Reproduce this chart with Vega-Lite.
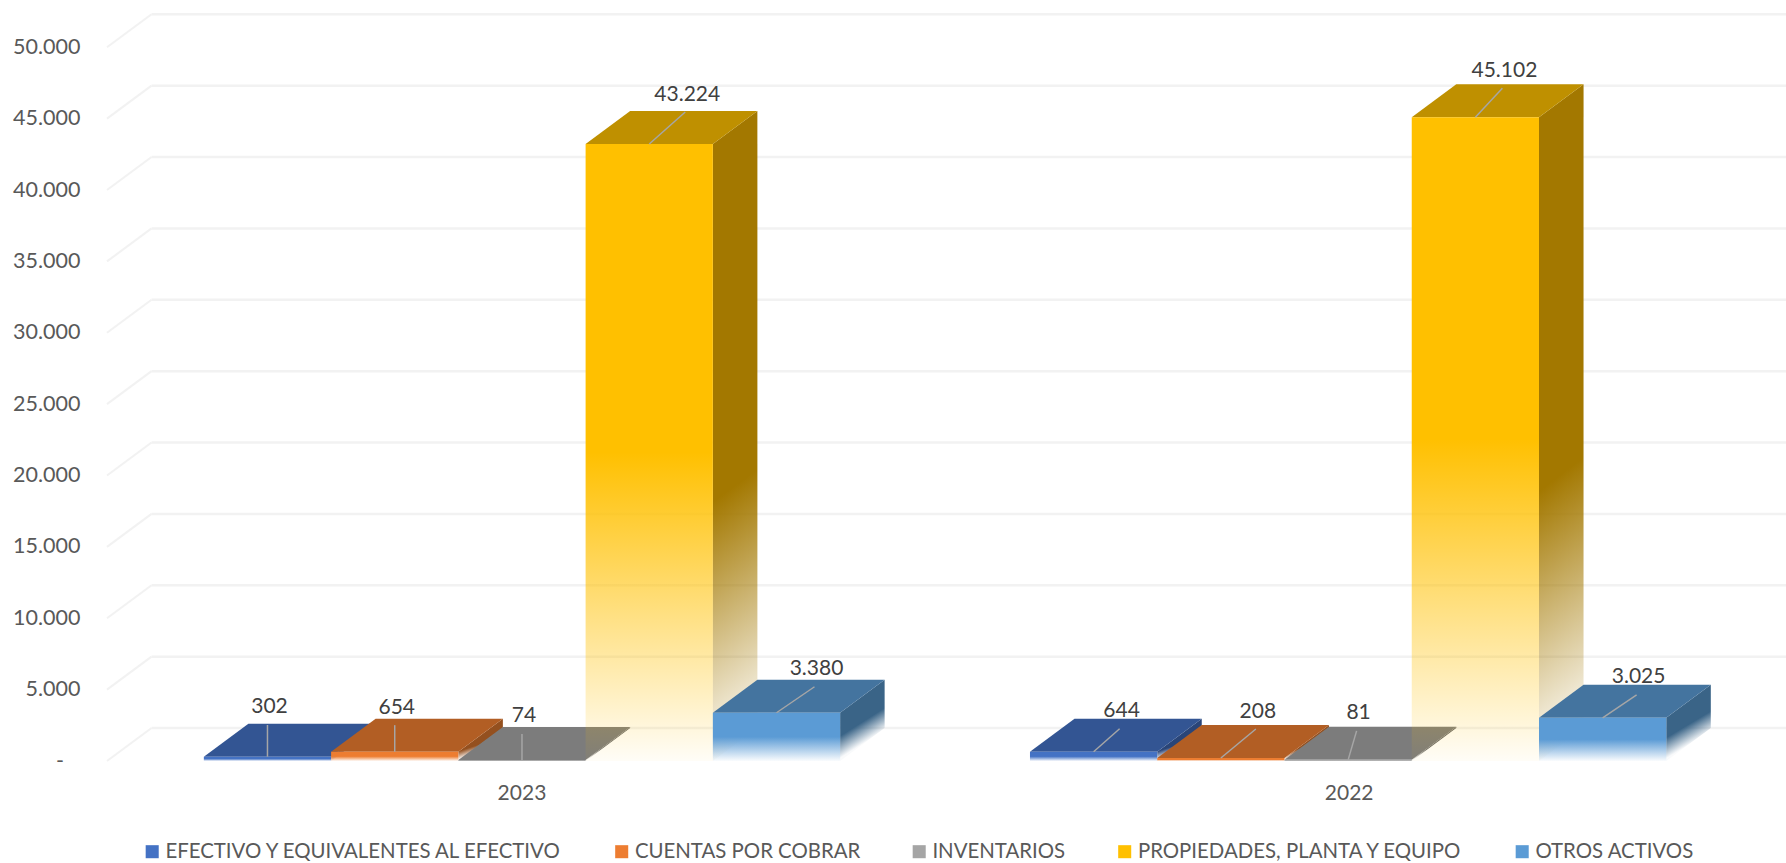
{
"$schema":"https://vega.github.io/schema/vega-lite/v6.json",
"autosize":{"type":"none"},
"padding":{"left":107,"top":47.3,"right":0,"bottom":102},
"width":1679,"height":713.7,
"background":"white",
"config":{"view":{"stroke":null},"font":"Lato"},
"params":[
{"name":"series","value":["EFECTIVO Y EQUIVALENTES AL EFECTIVO","CUENTAS POR COBRAR","INVENTARIOS","PROPIEDADES, PLANTA Y EQUIPO","OTROS ACTIVOS"]},
{"name":"gTop","value":["#335593","#b25e24","#7c7c7c","#bf9000","#44749f"]},
{"name":"gSide","value":[
   {"gradient":"linear","x1":0,"y1":0,"x2":0.3,"y2":0.86,"stops":[{"offset":0,"color":"#2a4578"},{"offset":0.8,"color":"#2a4578"},{"offset":1,"color":"rgba(42,69,120,0.05)"}]},
   {"gradient":"linear","x1":0,"y1":0,"x2":0.3,"y2":0.86,"stops":[{"offset":0,"color":"#94501f"},{"offset":0.8,"color":"#94501f"},{"offset":1,"color":"rgba(148,80,31,0.05)"}]},
   {"gradient":"linear","x1":0,"y1":0,"x2":0.3,"y2":0.86,"stops":[{"offset":0,"color":"#666666"},{"offset":0.8,"color":"#666666"},{"offset":1,"color":"rgba(102,102,102,0.05)"}]},
   {"gradient":"linear","x1":0,"y1":0,"x2":0.05,"y2":1,"stops":[{"offset":0,"color":"#a37800"},{"offset":0.6,"color":"#a37800"},{"offset":1,"color":"rgba(163,120,0,0.02)"}]},
   {"gradient":"linear","x1":0,"y1":0,"x2":0.3,"y2":0.86,"stops":[{"offset":0,"color":"#3a6487"},{"offset":0.72,"color":"#3a6487"},{"offset":1,"color":"rgba(58,100,135,0.03)"}]}
]},
{"name":"gFront","value":[
   {"gradient":"linear","x1":0,"y1":0,"x2":0,"y2":1,"stops":[{"offset":0,"color":"#4472c4"},{"offset":0.5,"color":"#4472c4"},{"offset":1,"color":"rgba(68,114,196,0.03)"}]},
   {"gradient":"linear","x1":0,"y1":0,"x2":0,"y2":1,"stops":[{"offset":0,"color":"#ed7d31"},{"offset":0.5,"color":"#ed7d31"},{"offset":1,"color":"rgba(237,125,49,0.03)"}]},
   {"gradient":"linear","x1":0,"y1":0,"x2":0,"y2":1,"stops":[{"offset":0,"color":"#a5a5a5"},{"offset":0.5,"color":"#a5a5a5"},{"offset":1,"color":"rgba(165,165,165,0.03)"}]},
   {"gradient":"linear","x1":0,"y1":0,"x2":0,"y2":1,"stops":[{"offset":0,"color":"#ffc000"},{"offset":0.5,"color":"#ffc000"},{"offset":1,"color":"rgba(255,192,0,0.03)"}]},
   {"gradient":"linear","x1":0,"y1":0,"x2":0,"y2":1,"stops":[{"offset":0,"color":"#5b9bd5"},{"offset":0.5,"color":"#5b9bd5"},{"offset":1,"color":"rgba(91,155,213,0.03)"}]}
]}
],
"data":{"values":[
{"anio":"2023","serie":"EFECTIVO Y EQUIVALENTES AL EFECTIVO","valor":302},
{"anio":"2023","serie":"CUENTAS POR COBRAR","valor":654},
{"anio":"2023","serie":"INVENTARIOS","valor":74},
{"anio":"2023","serie":"PROPIEDADES, PLANTA Y EQUIPO","valor":43224},
{"anio":"2023","serie":"OTROS ACTIVOS","valor":3380},
{"anio":"2022","serie":"EFECTIVO Y EQUIVALENTES AL EFECTIVO","valor":644},
{"anio":"2022","serie":"CUENTAS POR COBRAR","valor":208},
{"anio":"2022","serie":"INVENTARIOS","valor":81},
{"anio":"2022","serie":"PROPIEDADES, PLANTA Y EQUIPO","valor":45102},
{"anio":"2022","serie":"OTROS ACTIVOS","valor":3025}
]},
"transform":[
{"calculate":"indexof(series,datum.serie)","as":"idx"},
{"calculate":"(datum.anio=='2023'?0.761:7.253)+datum.idx","as":"pos"},
{"calculate":"datum.pos+1","as":"posEnd"}
],
"layer":[
{"data":{"values":[{"v":0},{"v":5000},{"v":10000},{"v":15000},{"v":20000},{"v":25000},{"v":30000},{"v":35000},{"v":40000},{"v":45000},{"v":50000}]},
 "transform":[{"calculate":"datum.v+2312","as":"vb"},{"calculate":"0.35","as":"wall"},{"calculate":"13.194","as":"end"}],
 "mark":{"type":"rule","stroke":"#f2f2f2","strokeWidth":2.5},
 "encoding":{
  "x":{"field":"wall","type":"quantitative","scale":{"domain":[0,13.194],"nice":false,"zero":false},
   "axis":{"title":null,"values":[3.257,9.757],"labelExpr":"datum.value<5?'2023':'2022'","domain":false,"ticks":false,"grid":false,"labelFont":"Lato","labelFontSize":21,"labelColor":"#595959","labelPadding":21,"labelFlush":false,"labelOverlap":false}},
  "x2":{"field":"end"},
  "y":{"field":"vb","type":"quantitative","scale":{"domain":[0,50000],"nice":false,"zero":false},
   "axis":{"title":null,"values":[0,5000,10000,15000,20000,25000,30000,35000,40000,45000,50000],"labelExpr":"datum.value==0?'-\u00a0\u00a0\u00a0\u200b':replace(format(datum.value,','),',','.')","domain":false,"ticks":false,"grid":false,"labelFont":"Lato","labelFontSize":21.5,"labelColor":"#595959","labelPadding":27,"labelOverlap":false,"labelFlush":false}}
 }},
{"data":{"values":[{"v":0},{"v":5000},{"v":10000},{"v":15000},{"v":20000},{"v":25000},{"v":30000},{"v":35000},{"v":40000},{"v":45000},{"v":50000}]},
 "transform":[{"calculate":"datum.v+2312","as":"vb"},{"calculate":"0","as":"w0"},{"calculate":"0.35","as":"wall"}],
 "mark":{"type":"rule","stroke":"#f2f2f2","strokeWidth":2},
 "encoding":{
  "x":{"field":"w0","type":"quantitative"},
  "x2":{"field":"wall"},
  "y":{"field":"v","type":"quantitative"},
  "y2":{"field":"vb"}
 }},
{"transform":[{"calculate":"[0,1]","as":"d"},{"flatten":["d"]},
  {"calculate":"datum.posEnd+datum.d*0.35","as":"sx"},
  {"calculate":"datum.valor+datum.d*2312","as":"sy"},
  {"calculate":"datum.d*2312","as":"sy2"},
  {"calculate":"datum.anio+datum.serie","as":"k"}],
 "mark":{"type":"area","orient":"vertical","interpolate":"linear","fill":{"expr":"gSide[datum.idx]"}},
 "encoding":{
  "x":{"field":"sx","type":"quantitative"},
  "y":{"field":"sy","type":"quantitative","stack":null},
  "y2":{"field":"sy2"},
  "detail":{"field":"k"}
 }},
{"transform":[{"calculate":"[0,1]","as":"d"},{"flatten":["d"]},
  {"calculate":"datum.pos+datum.d*0.35","as":"tx"},
  {"calculate":"datum.posEnd+datum.d*0.35","as":"tx2"},
  {"calculate":"datum.valor+datum.d*2312","as":"ty"},
  {"calculate":"datum.anio+datum.serie","as":"k"}],
 "mark":{"type":"area","orient":"horizontal","interpolate":"linear","fill":{"expr":"gTop[datum.idx]"}},
 "encoding":{
  "x":{"field":"tx","type":"quantitative","stack":null},
  "x2":{"field":"tx2"},
  "y":{"field":"ty","type":"quantitative"},
  "detail":{"field":"k"}
 }},
{"transform":[{"calculate":"0","as":"base"}],
 "mark":{"type":"rect","fill":{"expr":"gFront[datum.idx]"}},
 "encoding":{
  "x":{"field":"pos","type":"quantitative"},
  "x2":{"field":"posEnd"},
  "y":{"field":"valor","type":"quantitative"},
  "y2":{"field":"base"}
 }},
{"transform":[{"calculate":"0","as":"base"}],
 "mark":{"type":"rect","opacity":0},
 "encoding":{
  "x":{"field":"pos","type":"quantitative"},
  "x2":{"field":"posEnd"},
  "y":{"field":"valor","type":"quantitative"},
  "y2":{"field":"base"},
  "color":{"field":"serie","type":"nominal","sort":null,
   "scale":{"domain":["EFECTIVO Y EQUIVALENTES AL EFECTIVO","CUENTAS POR COBRAR","INVENTARIOS","PROPIEDADES, PLANTA Y EQUIPO","OTROS ACTIVOS"],"range":["#4472c4","#ed7d31","#a5a5a5","#ffc000","#5b9bd5"]},
   "legend":{"orient":"none","legendX":35,"legendY":794,"direction":"horizontal","columns":5,"title":null,"symbolType":"square","symbolSize":170,"symbolStrokeWidth":0,"labelFont":"Lato","labelFontSize":20.4,"labelColor":"#595959","labelLimit":600,"columnPadding":48.5,"labelOffset":3,
    "encode":{"symbols":{"update":{"fill":{"signal":"gFront[indexof(series,datum.value)]"},"opacity":{"value":1},"fillOpacity":{"value":1}}}}}
  }
 }},
{"transform":[
  {"calculate":"({'2023|0':[0,31.7],'2023|1':[0,26.5],'2023|2':[0,26],'2023|3':[36,32],'2023|4':[38,26],'2022|0':[26,23],'2022|1':[35,29],'2022|2':[8.5,29],'2022|3':[27,29],'2022|4':[34,23]})[datum.anio+'|'+datum.idx]","as":"off"},
  {"calculate":"datum.pos+0.5","as":"lx0"},
  {"calculate":"datum.pos+0.5+datum.off[0]/127.25","as":"lx"},
  {"calculate":"datum.valor+datum.off[1]*70.06","as":"ly"}],
 "mark":{"type":"rule","stroke":"#a6a6a6","strokeWidth":1.5},
 "encoding":{
  "x":{"field":"lx0","type":"quantitative"},
  "x2":{"field":"lx"},
  "y":{"field":"valor","type":"quantitative"},
  "y2":{"field":"ly"}
 }},
{"transform":[
  {"calculate":"({'2023|0':[0,31.7],'2023|1':[0,26.5],'2023|2':[0,26],'2023|3':[36,32],'2023|4':[38,26],'2022|0':[26,23],'2022|1':[35,29],'2022|2':[8.5,29],'2022|3':[27,29],'2022|4':[34,23]})[datum.anio+'|'+datum.idx]","as":"off"},
  {"calculate":"datum.pos+0.5+datum.off[0]/127.25","as":"lx"},
  {"calculate":"datum.valor+datum.off[1]*70.06","as":"ly"},
  {"calculate":"replace(format(datum.valor,','),',','.')","as":"txt"}],
 "mark":{"type":"text","font":"Lato","fontSize":21,"color":"#404040","dx":2,"dy":-17.5,"baseline":"middle","align":"center"},
 "encoding":{
  "x":{"field":"lx","type":"quantitative"},
  "y":{"field":"ly","type":"quantitative"},
  "text":{"field":"txt"}
 }}
]
}
